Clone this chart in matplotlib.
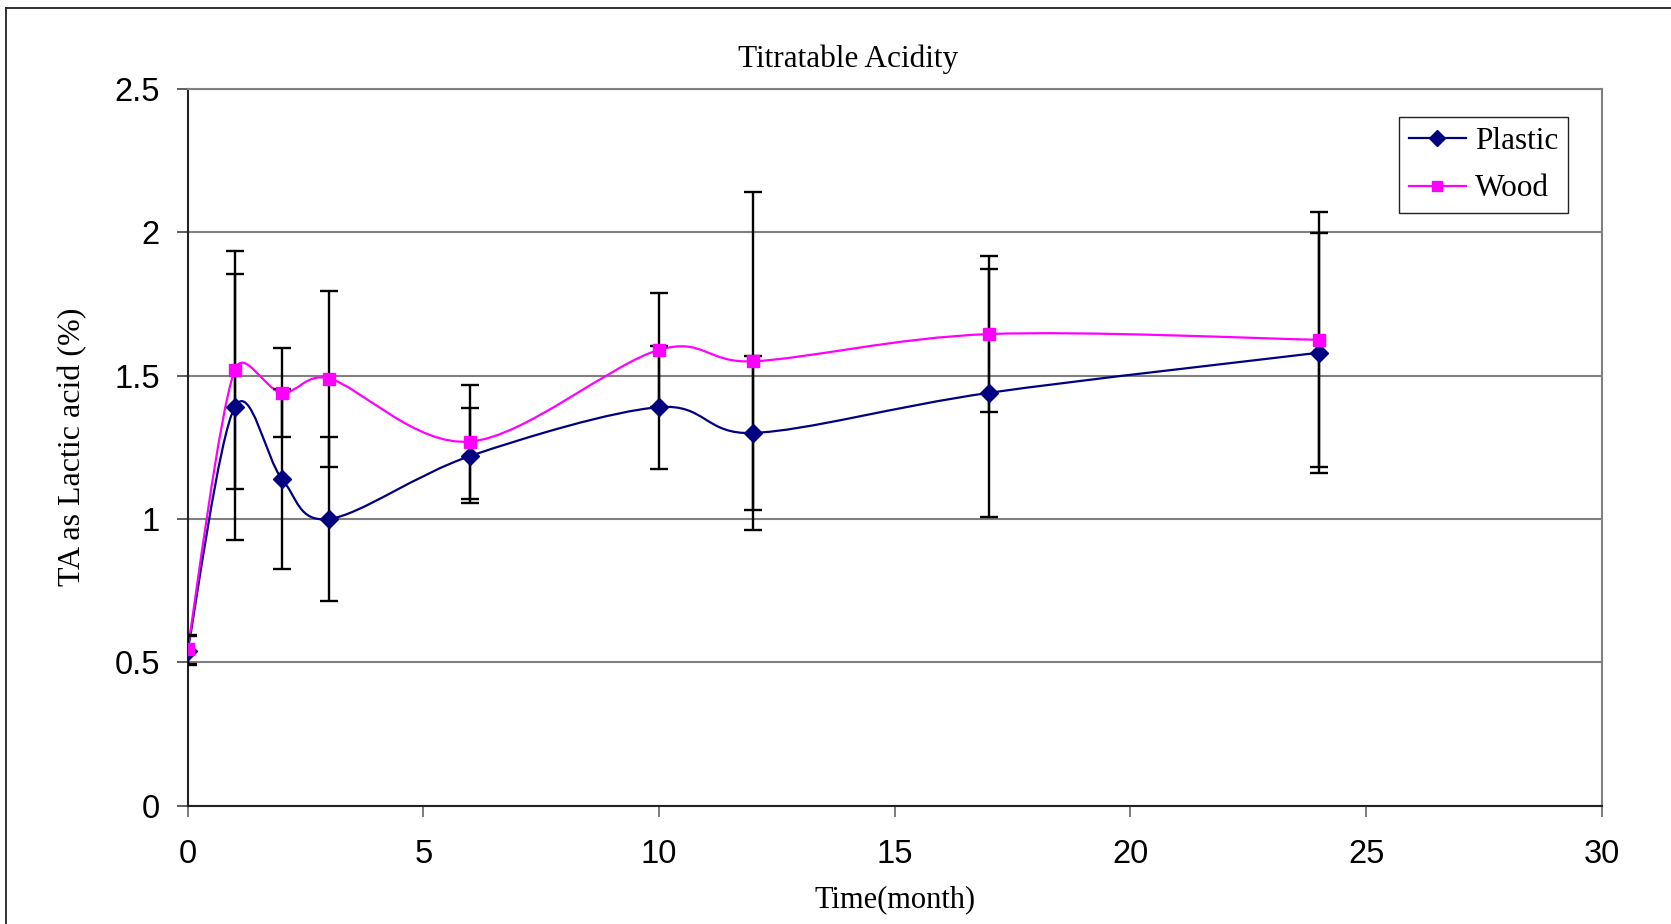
import numpy as np
import matplotlib
matplotlib.use("Agg")
import matplotlib.pyplot as plt
from matplotlib.path import Path
from matplotlib.patches import PathPatch
from matplotlib.lines import Line2D

# ------------------------------- Data -------------------------------
months = [0, 1, 2, 3, 6, 10, 12, 17, 24]

plastic = [0.54, 1.39, 1.14, 1.00, 1.22, 1.39, 1.30, 1.44, 1.58]
plastic_err = [0.05, 0.465, 0.315, 0.285, 0.166, 0.215, 0.267, 0.433, 0.418]

wood = [0.545, 1.52, 1.44, 1.49, 1.27, 1.59, 1.55, 1.645, 1.625]
wood_err = [0.05, 0.415, 0.155, 0.307, 0.199, 0.20, 0.59, 0.272, 0.445]

plasticColor = "#000080"
woodColor = "#ff00ff"
serif = "Liberation Serif"
sans = "Liberation Sans"

W, H = 1671, 924


def smooth_path(ax, xs, ys):
    # Excel-like smoothed line: cubic bezier through the points, built in
    # pixel space, control arms clamped to half the neighbouring segment
    pts = ax.transData.transform(np.column_stack([xs, ys]).astype(float))
    n = len(pts)
    verts = [pts[0]]
    codes = [Path.MOVETO]
    for i in range(n - 1):
        p0 = pts[i - 1] if i > 0 else pts[i]
        p1 = pts[i]
        p2 = pts[i + 1]
        p3 = pts[i + 2] if i + 2 < n else pts[i + 1]
        seg = np.hypot(*(p2 - p1))
        a1 = (p2 - p0) / 6.0
        a2 = (p3 - p1) / 6.0
        for a in (a1, a2):
            la = np.hypot(*a)
            if la > 0.5 * seg:
                a *= 0.5 * seg / la
        verts += [p1 + a1, p2 - a2, p2]
        codes += [Path.CURVE4] * 3
    inv = ax.transData.inverted()
    return Path(inv.transform(np.array(verts)), codes)


fig = plt.figure(figsize=(W / 100, H / 100), dpi=100)
ax = fig.add_axes([187.6 / W, 1 - 805.6 / H, 1414.2 / W, 716.6 / H])
ax.set_xlim(0, 30)
ax.set_ylim(0, 2.5)

# outer chart border (left and top only visible)
fig.add_artist(Line2D([6 / W, 6 / W], [0, 1 - 8 / H], transform=fig.transFigure,
                      color="#222222", lw=1.3))
fig.add_artist(Line2D([6 / W, 1], [1 - 8 / H, 1 - 8 / H], transform=fig.transFigure,
                      color="#222222", lw=1.3))

# error bars
ax.errorbar(months, plastic, yerr=plastic_err, fmt="none", ecolor="black",
            elinewidth=1.7, capsize=6.8, capthick=1.7, zorder=3)
ax.errorbar(months, wood, yerr=wood_err, fmt="none", ecolor="black",
            elinewidth=1.7, capsize=6.8, capthick=1.7, zorder=3)

# smoothed lines
ax.add_patch(PathPatch(smooth_path(ax, months, plastic), facecolor="none",
                       edgecolor=plasticColor, lw=1.6, zorder=2))
ax.add_patch(PathPatch(smooth_path(ax, months, wood), facecolor="none",
                       edgecolor=woodColor, lw=1.6, zorder=2))

# markers
ax.plot(months, plastic, linestyle="none", marker="D", markersize=9.5,
        color=plasticColor, zorder=4)
ax.plot(months, wood, linestyle="none", marker="s", markersize=9,
        color=woodColor, zorder=4)

# legend proxies
hPlastic = Line2D([], [], color=plasticColor, lw=1.6, marker="D", markersize=8)
hWood = Line2D([], [], color=woodColor, lw=1.6, marker="s", markersize=7.5)
leg = ax.legend([hPlastic, hWood], ["Plastic", "Wood"],
                loc="upper right", bbox_to_anchor=(1568.3 / W, 1 - 116.7 / H),
                bbox_transform=fig.transFigure,
                prop={"family": serif, "size": 22.5}, frameon=True, fancybox=False,
                edgecolor="#222222", framealpha=1, handlelength=1.8,
                handletextpad=0.3, labelspacing=0.6, borderpad=0.32,
                borderaxespad=0)
leg.get_frame().set_linewidth(1.0)

ax.set_xticks(np.arange(0, 31, 5))
ax.set_yticks(np.arange(0, 2.51, 0.5))
ax.set_yticklabels(["0", "0.5", "1", "1.5", "2", "2.5"])

ax.grid(axis="y", color="#808080", lw=1.5, zorder=0)
ax.set_axisbelow(True)

for s in ["top", "right"]:
    ax.spines[s].set_color("#808080")
    ax.spines[s].set_linewidth(1.5)
for s in ["left", "bottom"]:
    ax.spines[s].set_color("#222222")
    ax.spines[s].set_linewidth(1.5)

ax.tick_params(axis="x", direction="out", length=8, width=1.2, color="#666666",
               pad=16, labelsize=23.5)
ax.tick_params(axis="y", direction="out", length=8, width=1.2, color="#444444",
               pad=12, labelsize=23.5)
for lab in ax.get_xticklabels() + ax.get_yticklabels():
    lab.set_fontfamily(sans)

fig.text(848.5 / W, 1 - 59 / H, "Titratable Acidity", family=serif, fontsize=22.5,
         ha="center", va="center")
fig.text(894.7 / W, 1 - 900 / H, "Time(month)", family=serif, fontsize=22,
         ha="center", va="center")
fig.text(73 / W, 1 - 447 / H, "TA as Lactic acid (%)", family=serif, fontsize=23,
         ha="center", va="center", rotation=90)

plt.savefig("out.png", dpi=100)
plt.close()
